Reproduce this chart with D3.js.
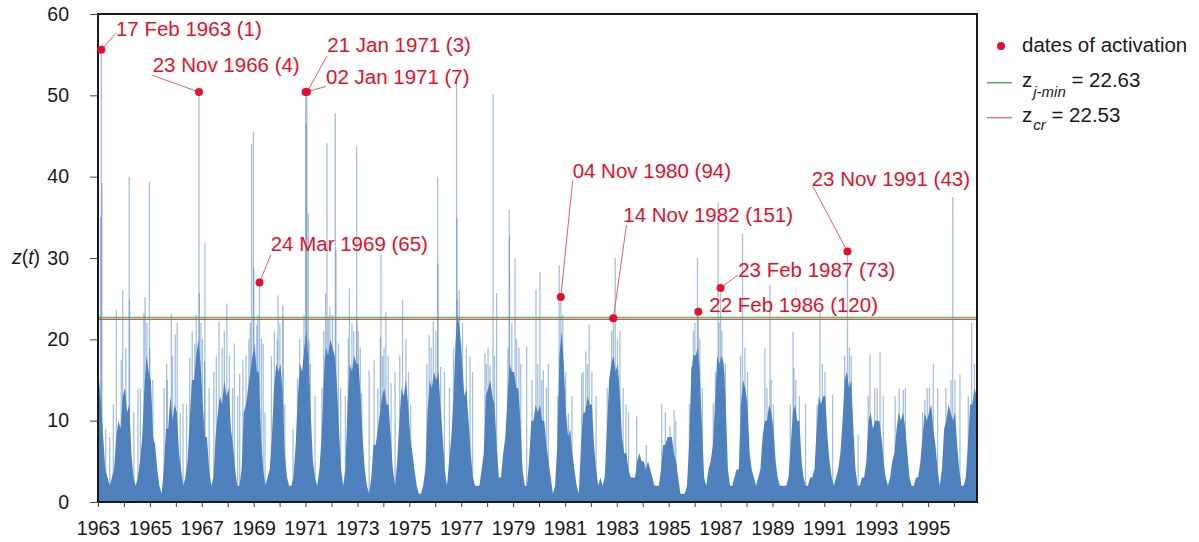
<!DOCTYPE html>
<html><head><meta charset="utf-8">
<script src="https://cdn.jsdelivr.net/npm/d3@7"></script>
<style>
body{margin:0;background:#fff;}
svg{display:block;font-family:"Liberation Sans",Arial,Helvetica,sans-serif;}
</style>
</head><body>
<svg id="chart" width="1199" height="542"></svg>
<script>
// ---------------- DATA ----------------
// typical daily level of z(t) per month (Jan..Dec), one row per year
const bulk1960s = [
  [15,12,8,4,3,2,3,4,8,10,9,13],      // 1963
  [14,11,12,6,3,2,3,5,8,14,18,16],    // 1964
  [15,8,7,4,2,1,4,9,9,13,10,12],      // 1965
  [11,6,4,2,3,5,10,15,15,18,20,17],   // 1966
  [12,8,8,4,2,3,8,11,13,12,15,13],    // 1967
  [14,9,7,4,2,2,4,11,12,14,16,18],    // 1968
  [19,16,16,8,4,2,3,4,8,14,17,16]     // 1969
];
const bulk1970s = [
  [17,13,6,3,2,2,3,7,13,17,16,19],    // 1970
  [21,17,11,5,3,2,4,8,15,19,18,20],   // 1971
  [19,18,15,9,4,2,4,12,17,16,18,17],  // 1972
  [17,13,8,4,2,1,3,7,7,9,11,13],      // 1973
  [14,12,12,8,4,2,5,10,14,13,15,12],  // 1974
  [8,6,4,2,1,1,2,4,11,15,14,16],      // 1975
  [15,16,12,8,4,2,5,8,13,20,23,21],   // 1976
  [17,13,14,10,6,3,2,2,2,4,6,13],     // 1977
  [14,15,13,12,7,3,3,6,8,13,17,16],   // 1978
  [16,14,14,10,4,2,2,5,10,10,12,11]   // 1979
];
const bulk1980s = [
  [12,10,10,7,5,3,1,2,7,18,21,17],    // 1980
  [11,8,9,6,4,2,1,7,11,11,13,12],     // 1981
  [12,7,4,2,3,2,3,9,15,17,18,16],     // 1982
  [17,13,8,6,6,4,3,3,3,5,6,5],        // 1983
  [5,4,5,4,3,2,2,2,4,7,7,8],          // 1984
  [8,8,6,5,3,1,1,1,2,7,16,18],        // 1985
  [18,19,16,9,3,2,4,5,7,12,18,17],    // 1986
  [18,17,12,4,2,2,3,4,4,12,15,14],    // 1987
  [12,6,4,3,2,3,4,8,10,10,12,11],     // 1988
  [9,5,3,2,2,2,2,3,7,11,12,10]        // 1989
];
const bulk1990s = [
  [10,5,3,2,2,3,3,4,9,13,12,13],      // 1990
  [13,8,5,3,2,3,4,6,10,15,16,14],     // 1991
  [15,9,4,2,2,3,3,5,10,11,9,10],      // 1992
  [10,10,8,5,3,2,3,5,6,9,11,10],      // 1993
  [11,9,6,3,2,2,3,3,5,8,11,10],       // 1994
  [11,12,9,7,4,2,4,9,10,12,11,10],    // 1995
  [11,7,4,2,2,3,7,12,12,14,13]        // 1996
];
// isolated daily peaks [date, z]
const spikes = [
  ["1963-02-05",35],["1963-02-17",55.6],["1963-02-25",39.2],["1963-04-20",9],["1963-06-15",8],["1963-08-05",12],
  ["1963-09-16",23.6],["1963-11-24",17.5],["1963-12-15",26],
  ["1964-01-28",19],["1964-03-15",40],["1964-03-20",24.8],["1964-05-20",11],["1964-07-16",13.8],["1964-08-20",14],
  ["1964-10-08",23.2],["1964-10-25",25.2],["1964-11-20",22],["1964-12-25",39.4],["1964-12-29",18.9],
  ["1965-02-10",15],["1965-07-20",14],["1965-08-25",17],["1965-09-02",15],["1965-10-30",23.1],["1965-11-15",18],["1965-12-24",20.6],
  ["1966-01-20",22],["1966-03-05",11],["1966-04-12",12.1],["1966-06-01",12],["1966-07-15",17.7],["1966-08-20",21],
  ["1966-09-24",19.5],["1966-10-15",23],["1966-11-23",50.4],["1966-11-28",25.7],["1966-12-20",22],
  ["1967-01-10",20],["1967-02-10",17.3],["1967-02-15",31.8],["1967-04-15",14],["1967-06-20",16],["1967-07-25",18],
  ["1967-09-01",22.2],["1967-10-15",19],["1967-11-15",21],["1967-12-20",24.4],
  ["1968-01-25",18],["1968-03-10",14],["1968-04-05",19.5],["1968-05-20",13],["1968-06-18",15.8],["1968-08-03",17.5],
  ["1968-09-15",18],["1968-10-25",20],["1968-11-15",22],["1968-12-02",44],["1968-12-28",45.5],
  ["1969-01-03",28.7],["1969-01-15",19.4],["1969-02-14",21.8],["1969-02-28",23],["1969-03-24",27.0],["1969-04-20",20.1],
  ["1969-05-15",19.5],["1969-06-10",11],["1969-09-08",17.9],["1969-10-20",21],["1969-11-28",20],["1969-12-10",25.4],
  ["1970-01-05",22],["1970-02-15",24.2],["1970-02-20",22.9],["1970-03-15",12],["1970-07-10",9],["1970-09-10",15.2],
  ["1970-10-10",20],["1970-11-06",15.8],["1970-12-10",23],
  ["1971-01-02",50.4],["1971-01-12",46.4],["1971-01-21",50.4],["1971-02-10",35.5],["1971-02-20",19.9],["1971-03-10",17],
  ["1971-05-15",13],["1971-08-20",14],["1971-09-15",21],["1971-10-01",17.9],["1971-10-10",25.7],["1971-10-30",44.1],
  ["1971-11-17",22.8],["1971-12-10",24],
  ["1972-01-15",23],["1972-02-25",47.8],["1972-03-05",31],["1972-04-08",19.5],["1972-05-10",14],["1972-07-15",13],
  ["1972-08-25",20.1],["1972-09-10",26.3],["1972-10-15",22],["1972-11-10",21],["1972-11-28",17.5],["1972-12-20",43.7],["1972-12-25",22.8],
  ["1973-01-15",21],["1973-02-10",19],["1973-03-03",13.4],["1973-06-15",16.2],["1973-08-25",17.5],["1973-10-15",14],
  ["1973-11-20",20.3],["1973-11-28",30.4],["1973-12-20",18],
  ["1974-01-10",19],["1974-02-05",23.4],["1974-03-10",18],["1974-04-20",14.6],["1974-06-15",16],["1974-08-20",18],
  ["1974-09-28",24.8],["1974-11-15",20],["1974-12-20",16],
  ["1975-01-20",12],["1975-09-05",17],["1975-10-08",20.5],["1975-11-05",19],["1975-12-05",22.2],
  ["1976-01-10",21],["1976-02-05",40],["1976-02-10",29.3],["1976-03-18",16.6],["1976-05-10",16],["1976-07-20",14],
  ["1976-09-15",19],["1976-10-28",51.7],["1976-11-02",35],["1976-11-05",24.8],["1976-12-05",26],["1976-12-25",19.5],
  ["1977-01-20",22],["1977-03-15",19],["1977-05-05",17.9],["1977-06-10",16],["1977-12-01",18.3],["1977-12-20",17],
  ["1978-01-15",19],["1978-02-10",16.8],["1978-03-25",50.2],["1978-04-15",18],["1978-05-15",25.7],["1978-10-20",19],
  ["1978-11-08",35.9],["1978-11-12",32.6],["1978-12-15",22],
  ["1979-01-30",30],["1979-02-20",20],["1979-03-25",19],["1979-04-20",17],["1979-07-12",19.1],["1979-09-25",15],
  ["1979-11-20",26.1],["1979-12-15",17],
  ["1980-01-15",28.3],["1980-02-10",15],["1980-03-03",16.2],["1980-04-15",14],["1980-05-12",17],["1980-09-20",13],
  ["1980-10-12",29.1],["1980-11-04",25.2],["1980-12-01",23],
  ["1981-01-10",16],["1981-02-18",10.9],["1981-04-10",13],["1981-08-25",15.8],["1981-09-15",16],["1981-10-22",18.5],
  ["1981-11-15",17],["1981-12-08",21.8],
  ["1982-01-15",16],["1982-03-15",13],["1982-08-20",14],["1982-09-28",14.6],["1982-10-20",21],["1982-11-14",22.6],["1982-12-10",30],
  ["1983-01-10",20],["1983-02-14",21.1],["1983-04-01",14],["1983-05-10",12],["1983-06-15",11],["1983-10-08",10.5],
  ["1984-02-20",7],["1984-09-25",12.1],["1984-11-15",11],
  ["1985-01-20",9.3],["1985-03-18",11.3],["1985-04-10",10],["1985-10-20",12],["1985-11-20",16.6],["1985-12-15",21],
  ["1986-01-05",22],["1986-02-10",30],["1986-02-22",23.4],["1986-03-15",20],["1986-04-20",14],["1986-09-20",12.1],
  ["1986-10-20",16],["1986-11-28",36.9],["1986-12-10",22],
  ["1987-01-01",26.3],["1987-01-20",21],["1987-02-18",15.8],["1987-03-10",17],["1987-10-10",18],["1987-11-06",33],["1987-12-10",19],
  ["1988-01-15",16],["1988-09-16",18.9],["1988-10-15",14],["1988-11-27",26.7],["1988-12-15",15],
  ["1989-01-15",12],["1989-09-10",12],["1989-10-18",20.9],["1989-10-30",16.4],["1989-11-25",15],
  ["1990-01-15",13],["1990-04-12",12.1],["1990-09-20",12],["1990-11-01",23.4],["1990-12-05",17],
  ["1991-01-10",16],["1991-04-28",13.2],["1991-10-15",18],["1991-11-23",30.8],["1991-12-20",19],
  ["1992-01-15",18],["1992-04-22",8.2],["1992-09-10",13],["1992-10-05",18.1],["1992-12-10",14],
  ["1993-01-15",14],["1993-02-24",18.5],["1993-04-10",13],["1993-09-24",13],["1993-11-20",14],
  ["1994-01-18",13.8],["1994-02-15",14],["1994-10-15",11],["1994-11-17",12.5],["1994-12-20",14],
  ["1995-01-20",14],["1995-03-15",17],["1995-05-15",14],["1995-09-10",14],["1995-11-20",15],["1995-12-14",37.5],
  ["1996-01-15",15],["1996-03-25",15.6],["1996-07-20",13],["1996-09-05",22],["1996-10-15",17]
];
// dates of activation: label, plotted date, z value
const activationLabels = ["17 Feb 1963 (1)","23 Nov 1966 (4)","21 Jan 1971 (3)","02 Jan 1971 (7)",
  "24 Mar 1969 (65)","04 Nov 1980 (94)","14 Nov 1982 (151)","23 Feb 1987 (73)","22 Feb 1986 (120)","23 Nov 1991 (43)"];
const activationDates = ["1963-02-17","1966-11-23","1971-01-21","1971-01-02",
  "1969-03-24","1980-11-04","1982-11-14","1987-01-01","1986-02-22","1991-11-23"];
const activationValues = [55.6,50.4,50.4,50.4,27.0,25.2,22.6,26.3,23.4,30.8];
const zJmin = 22.63;
const zCr = 22.53;
const yTicks = [0,10,20,30,40,50,60];
const xStart = "1963-01-01", xEnd = "1996-11-20";

// ---------------- LAYOUT ----------------
// label offsets from their dot: [text dx, text dy(baseline), leader end dx, leader end dy] (null = no leader)
const labelLayout = [
  [14.6,-14.2,14.6,-16.5],
  [-46.3,-19.8,-47.3,-17.1],
  [20.4,-39.8,20.1,-36],
  [20.4,-8.1,20.4,-5.6],
  [11.2,-31.8,11.2,-27.4],
  [11.8,-118.7,11.8,-116],
  [9.9,-96.6,13.1,-93.2],
  [17.6,-10.8,17.3,-13.1],
  [11,0.6,null,null],
  [-35.8,-65.9,-34.2,-64.5]
];
const M = {left:98, right:977, top:14, bottom:502};
const BLUE = "#4f81bd", RED = "#e5102b";

const parse = d3.timeParse("%Y-%m-%d");
const svg = d3.select("#chart");
const x = d3.scaleTime().domain([parse(xStart), parse(xEnd)]).range([M.left, M.right]);
const y = d3.scaleLinear().domain([0,60]).range([M.bottom, M.top]);

svg.append("defs").append("clipPath").attr("id","plot")
  .append("rect").attr("x",M.left).attr("y",M.top).attr("width",M.right-M.left).attr("height",M.bottom-M.top);
const g = svg.append("g").attr("clip-path","url(#plot)");

// monthly mass
const rows = [...bulk1960s, ...bulk1970s, ...bulk1980s, ...bulk1990s];
const monthly = [];
rows.forEach((row,i)=>row.forEach((v,m)=>monthly.push({d:new Date(1963+i,m,15), v})));
const pts = [{d:parse(xStart), v:monthly[0].v}, ...monthly, {d:parse(xEnd), v:monthly[monthly.length-1].v}];
g.append("path").datum(pts)
  .attr("fill",BLUE)
  .attr("d", d3.area().x(d=>x(d.d)).y0(y(0)).y1(d=>y(d.v)));

// spikes
g.selectAll("line.spike").data(spikes).join("line").attr("class","spike")
  .attr("x1",d=>x(parse(d[0]))).attr("x2",d=>x(parse(d[0])))
  .attr("y1",y(0)).attr("y2",d=>y(d[1]))
  .attr("stroke",BLUE).attr("stroke-width",1.3).attr("stroke-opacity",0.5);

// threshold lines
g.append("line").attr("x1",M.left).attr("x2",M.right).attr("y1",y(zCr)+0.6).attr("y2",y(zCr)+0.6)
  .attr("stroke","#d9534f").attr("stroke-width",1.4);
g.append("line").attr("x1",M.left).attr("x2",M.right).attr("y1",y(zJmin)-0.4).attr("y2",y(zJmin)-0.4)
  .attr("stroke","#4cae4c").attr("stroke-width",1.4).attr("stroke-opacity",0.85);

// frame
svg.append("rect").attr("x",M.left).attr("y",M.top).attr("width",M.right-M.left).attr("height",M.bottom-M.top)
  .attr("fill","none").attr("stroke","#1a1a1a").attr("stroke-width",2);

// axes
const xAxis = d3.axisBottom(x).ticks(d3.timeYear.every(1)).tickSize(5).tickPadding(14)
  .tickFormat(d => (d.getFullYear()-1963)%2===0 ? String(d.getFullYear()) : "");
const gx = svg.append("g").attr("transform",`translate(0,${M.bottom})`).call(xAxis);
const yAxis = d3.axisLeft(y).tickValues(yTicks).tickSize(8).tickPadding(21);
const gy = svg.append("g").attr("transform",`translate(${M.left},0)`).call(yAxis);
[gx,gy].forEach(a=>{
  a.select(".domain").remove();
  a.selectAll(".tick line").attr("stroke","#444");
  a.selectAll(".tick text").attr("fill","#1a1a1a").style("font-size","19.5px")
   .style("font-family","'Liberation Sans',Arial,sans-serif");
});

// y label
const yl = svg.append("text").attr("x",26).attr("y",264).attr("text-anchor","middle")
  .style("font-size","19.5px").attr("fill","#1a1a1a");
yl.append("tspan").attr("font-style","italic").text("z");
yl.append("tspan").text("(");
yl.append("tspan").attr("font-style","italic").text("t");
yl.append("tspan").text(")");

// activation points
const acts = activationLabels.map((l,i)=>({l, d:parse(activationDates[i]), v:activationValues[i], o:labelLayout[i]}));
const ag = svg.append("g");
acts.forEach(a=>{
  const cx = x(a.d), cy = y(a.v);
  if(a.o[2]!==null){
    ag.append("line").attr("x1",cx).attr("y1",cy).attr("x2",cx+a.o[2]).attr("y2",cy+a.o[3])
      .attr("stroke","#ef5a6a").attr("stroke-width",1);
  }
});
ag.selectAll("circle").data(acts).join("circle")
  .attr("cx",d=>x(d.d)).attr("cy",d=>y(d.v)).attr("r",4).attr("fill",RED);
ag.selectAll("text").data(acts).join("text")
  .attr("x",d=>x(d.d)+d.o[0]).attr("y",d=>y(d.v)+d.o[1])
  .attr("fill",RED).style("font-size","20.5px").text(d=>d.l);

// legend
const lg = svg.append("g").style("font-size","20.5px").attr("fill","#1a1a1a");
lg.append("circle").attr("cx",1001).attr("cy",46).attr("r",4).attr("fill",RED);
lg.append("text").attr("x",1022).attr("y",52).text("dates of activation");
lg.append("line").attr("x1",987).attr("x2",1012).attr("y1",82.7).attr("y2",82.7).attr("stroke","#4cae4c").attr("stroke-width",1.5);
const t1 = lg.append("text").attr("x",1022).attr("y",87);
t1.append("tspan").text("z");
t1.append("tspan").attr("font-style","italic").style("font-size","15px").attr("dy",10).attr("dx",1).text("j-min");
t1.append("tspan").attr("dy",-10).text(" = " + zJmin.toFixed(2));
lg.append("line").attr("x1",987).attr("x2",1012).attr("y1",117.7).attr("y2",117.7).attr("stroke","#e8737f").attr("stroke-width",1.5);
const t2 = lg.append("text").attr("x",1022).attr("y",122);
t2.append("tspan").text("z");
t2.append("tspan").attr("font-style","italic").style("font-size","15px").attr("dy",8).attr("dx",1).text("cr");
t2.append("tspan").attr("dy",-8).text(" = " + zCr.toFixed(2));
</script>
</body></html>
